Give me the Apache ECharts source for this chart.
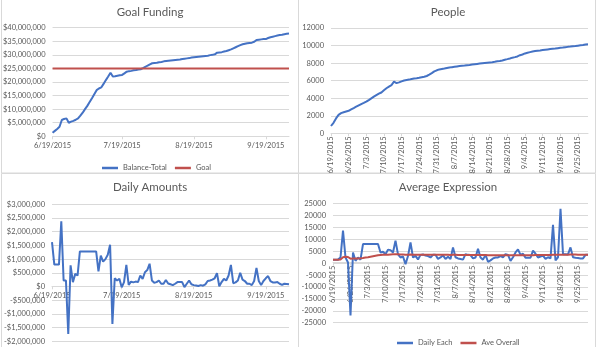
<!DOCTYPE html>
<html><head><meta charset="utf-8">
<script src="https://cdn.jsdelivr.net/npm/echarts@6/dist/echarts.min.js"></script>
<style>html,body{margin:0;padding:0;background:#fff}#c{width:600px;height:347px}</style>
</head><body><div id="c"></div>
<script>
// categories: daily dates from 6/19/2015
const firstDay = [2015, 6, 19];
const dayCount = 103;
const dates = [];
for (let i = 0; i < dayCount; i++) {
  const d = new Date(firstDay[0], firstDay[1] - 1, firstDay[2] + i);
  dates.push((d.getMonth() + 1) + '/' + d.getDate() + '/' + d.getFullYear());
}

// Goal Funding (millions of $)
const balanceTotalM = [1.3,2.0,2.7,3.5,6.0,6.4,6.6,5.0,5.4,5.7,6.1,6.6,7.6,8.7,10.0,11.2,12.6,14.0,15.5,17.0,17.6,18.0,19.3,20.7,22.0,23.4,22.0,22.1,22.3,22.5,22.6,23.2,23.8,24.0,24.1,24.3,24.4,24.6,24.7,25.1,25.6,26.0,26.5,26.9,27.0,27.1,27.3,27.4,27.6,27.7,27.8,27.9,28.0,28.1,28.2,28.3,28.5,28.6,28.7,28.8,29.0,29.1,29.2,29.3,29.4,29.5,29.6,29.7,29.9,30.0,30.2,30.8,30.9,31.0,31.2,31.4,31.7,32.0,32.4,32.8,33.2,33.6,33.9,34.1,34.3,34.4,34.5,34.8,35.5,35.6,35.7,35.8,35.8,36.2,36.5,36.7,36.9,37.1,37.3,37.4,37.6,37.8,37.9];
const goalM = 25;

// People
const people = [832,1200,1700,2100,2300,2400,2480,2560,2720,2870,3030,3180,3330,3460,3600,3780,3980,4170,4350,4520,4650,4900,5130,5320,5500,5880,5720,5800,5920,6020,6075,6120,6190,6240,6280,6330,6390,6450,6530,6680,6850,7050,7180,7280,7330,7380,7440,7490,7540,7580,7620,7660,7690,7720,7760,7790,7830,7870,7910,7950,7990,8020,8050,8080,8110,8150,8200,8240,8300,8380,8450,8530,8620,8680,8760,8900,8980,9100,9180,9250,9320,9370,9410,9440,9480,9520,9560,9600,9630,9660,9700,9740,9770,9810,9850,9880,9920,9950,9990,10030,10070,10120,10150];

// Daily Amounts (millions of $)
const dailyAmountsM = [1.62,0.80,0.80,0.80,2.38,0.22,0.22,-1.73,0.77,0.16,0.46,0.40,1.28,1.28,1.28,1.28,1.28,1.28,1.28,1.28,0.55,1.13,0.91,1.00,1.16,1.52,-1.37,0.30,0.22,0.28,-0.03,0.16,0.79,0.06,0.18,0.15,0.18,0.16,0.40,0.28,0.52,0.60,0.83,0.22,0.14,0.16,0.22,0.10,0.10,0.24,0.11,0.08,0.05,0.10,0.16,0.16,0.16,-0.02,0.10,0.22,0.08,0.05,0.04,0.02,0.05,0.03,0.08,0.20,0.22,0.25,0.30,0.49,0.01,0.16,0.28,0.22,0.40,0.79,0.12,0.15,0.22,0.50,0.25,0.20,0.10,0.10,0.05,0.20,0.68,0.20,0.05,0.20,0.30,0.38,0.20,0.15,0.15,0.16,0.10,0.06,0.10,0.09,0.08];

// Average Expression
const dailyEach = [1440,1500,1500,2400,13700,2400,300,-22000,4500,1000,2400,1500,8050,8050,8050,8050,8050,8050,8050,4500,4800,3800,5700,5500,4500,9500,3700,2400,2800,-400,3000,8770,2400,3100,1600,3500,3700,3200,3000,2400,3500,3600,1800,2400,3300,1800,2700,1800,6650,2500,2000,1800,1500,3800,3500,3400,2000,2400,6100,2400,1500,3500,600,1200,2000,2400,2400,3000,2500,3800,3500,1000,2500,4500,5800,3500,4000,2300,2300,2300,5300,4000,2400,2800,3200,1800,2500,2000,16100,1200,2500,22900,3800,3800,3700,6650,2500,2300,2200,2000,2000,3500,3500];
const aveOverall = [1500,1500,1500,1600,2500,2700,2600,1900,2000,1950,2000,2050,2200,2400,2500,2700,2900,3100,3300,3400,3500,3550,3600,3700,3750,3800,3750,3700,3650,3600,3600,3650,3600,3600,3550,3550,3550,3550,3550,3500,3500,3500,3500,3500,3500,3500,3500,3450,3500,3500,3450,3450,3450,3450,3450,3450,3400,3400,3450,3400,3400,3400,3350,3350,3300,3300,3300,3300,3300,3300,3300,3300,3300,3300,3350,3350,3350,3350,3350,3350,3350,3400,3400,3400,3400,3400,3400,3400,3500,3500,3500,3600,3600,3600,3600,3650,3650,3650,3600,3600,3600,3600,3600];

const titles = ['Goal Funding', 'People', 'Daily Amounts', 'Average Expression'];
const legend1 = ['Balance-Total', 'Goal'];
const legend4 = ['Daily Each', 'Ave Overall'];

const FONT = 'Lato, "Liberation Sans", sans-serif';
const GRAY = '#595959';
const GRID = '#d9d9d9';
const BLUE = '#4472c4';
const RED = '#c0504d';

const money = v => (v < 0 ? '-' : '') + '$' + Math.abs(v).toLocaleString('en-US');

function xAxis(gridIndex, rotate, intervalFn, offset) {
  return {
    type: 'category', gridIndex, data: dates, boundaryGap: false, position: 'bottom', offset: offset,
    axisLine: { onZero: false, lineStyle: { color: GRID } },
    axisTick: { show: true, length: 3, interval: intervalFn, lineStyle: { color: GRID } },
    axisLabel: { interval: intervalFn, rotate: rotate, color: GRAY, fontSize: 7.5, fontFamily: FONT, margin: rotate ? 3 : 5, hideOverlap: false },
    splitLine: { show: false }
  };
}
function yAxis(gridIndex, min, max, interval, fmt) {
  return {
    type: 'value', gridIndex, min, max, interval,
    axisLine: { show: false }, axisTick: { show: false },
    axisLabel: { color: GRAY, fontSize: 7.5, fontFamily: FONT, margin: 7, formatter: fmt },
    splitLine: { lineStyle: { color: GRID, width: 1 } }
  };
}
const monthly = (i, v) => /\/19\/2015$/.test(v);
const weekly = (i) => i % 7 === 0;

const chart = echarts.init(document.getElementById('c'), null, { renderer: 'canvas' });
const lineBase = { type: 'line', symbol: 'none', showSymbol: false, smooth: false, lineStyle: { width: 2 }, animation: false };
const legendBase = { icon: 'rect', itemWidth: 16, itemHeight: 2.5, itemGap: 8, textStyle: { color: GRAY, fontSize: 7.5, fontFamily: FONT } };

chart.setOption({
  animation: false,
  textStyle: { fontFamily: FONT },
  graphic: [
    { type: 'rect', shape: { x: 1.5, y: -1, width: 297, height: 174 }, style: { fill: 'none', stroke: GRID, lineWidth: 1 }, silent: true },
    { type: 'rect', shape: { x: 298.5, y: -1, width: 297, height: 174 }, style: { fill: 'none', stroke: GRID, lineWidth: 1 }, silent: true },
    { type: 'rect', shape: { x: 1.5, y: 173.5, width: 297, height: 175 }, style: { fill: 'none', stroke: GRID, lineWidth: 1 }, silent: true },
    { type: 'rect', shape: { x: 298.5, y: 173.5, width: 297, height: 175 }, style: { fill: 'none', stroke: GRID, lineWidth: 1 }, silent: true },
    { type: 'text', x: 150, y: 12.5, style: { text: titles[0], textAlign: 'center', textVerticalAlign: 'middle', fill: GRAY, font: '11.5px ' + FONT } },
    { type: 'text', x: 448, y: 12.5, style: { text: titles[1], textAlign: 'center', textVerticalAlign: 'middle', fill: GRAY, font: '11.5px ' + FONT } },
    { type: 'text', x: 150, y: 187.5, style: { text: titles[2], textAlign: 'center', textVerticalAlign: 'middle', fill: GRAY, font: '11.5px ' + FONT } },
    { type: 'text', x: 448, y: 187.5, style: { text: titles[3], textAlign: 'center', textVerticalAlign: 'middle', fill: GRAY, font: '11.5px ' + FONT } }
  ],
  legend: [
    Object.assign({}, legendBase, { data: legend1, left: 97, top: 159 }),
    Object.assign({}, legendBase, { data: legend4, left: 392, top: 334 })
  ],
  grid: [
    { left: 52, right: 311, top: 27.7, bottom: 210.7 },
    { left: 331, right: 12, top: 28, bottom: 213.7 },
    { left: 52, right: 311, top: 204.3, bottom: 5.7 },
    { left: 333, right: 12, top: 203.7, bottom: 24.3 }
  ],
  xAxis: [
    xAxis(0, 0, monthly, 0),
    xAxis(1, 90, weekly, 0),
    xAxis(2, 0, monthly, -55),
    xAxis(3, 90, weekly, -60)
  ],
  yAxis: [
    yAxis(0, 0, 40000000, 5000000, money),
    yAxis(1, 0, 12000, 2000, v => String(v)),
    yAxis(2, -2000000, 3000000, 500000, money),
    yAxis(3, -25000, 25000, 5000, v => String(v))
  ],
  series: [
    Object.assign({}, lineBase, { name: legend1[0], xAxisIndex: 0, yAxisIndex: 0, color: BLUE, data: balanceTotalM.map(v => Math.round(v * 1e6)) }),
    Object.assign({}, lineBase, { name: legend1[1], xAxisIndex: 0, yAxisIndex: 0, color: RED, data: dates.map(() => goalM * 1e6) }),
    Object.assign({}, lineBase, { name: 'People', xAxisIndex: 1, yAxisIndex: 1, color: BLUE, data: people }),
    Object.assign({}, lineBase, { name: 'Daily Amounts', xAxisIndex: 2, yAxisIndex: 2, color: BLUE, data: dailyAmountsM.map(v => Math.round(v * 1e6)) }),
    Object.assign({}, lineBase, { name: legend4[0], xAxisIndex: 3, yAxisIndex: 3, color: BLUE, data: dailyEach }),
    Object.assign({}, lineBase, { name: legend4[1], xAxisIndex: 3, yAxisIndex: 3, color: RED, data: aveOverall })
  ]
});
</script></body></html>
